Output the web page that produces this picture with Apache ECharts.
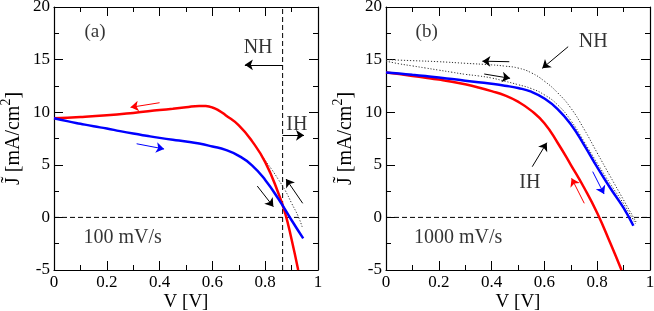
<!DOCTYPE html>
<html>
<head>
<meta charset="utf-8">
<script src="https://cdn.jsdelivr.net/npm/echarts@6/dist/echarts.min.js"></script>
<style>html,body{margin:0;padding:0;background:#fff}#c{width:654px;height:311px}</style>
</head>
<body>
<div id="c"></div>
<script>
// ---------- data: panel (a) 100 mV/s ----------
const aRedV  = [0, 0.1, 0.2, 0.3, 0.4, 0.45, 0.5, 0.55, 0.575, 0.6, 0.625, 0.65, 0.7, 0.75, 0.8, 0.85, 0.875, 0.9, 0.925];
const aRedJ  = [9.43, 9.54, 9.7, 9.93, 10.2, 10.33, 10.47, 10.6, 10.58, 10.45, 10.15, 9.72, 8.75, 7.25, 5.25, 2.3, 0.45, -2.1, -5.0];
const aBlueV = [0, 0.05, 0.1, 0.15, 0.2, 0.25, 0.3, 0.35, 0.4, 0.45, 0.5, 0.55, 0.6, 0.65, 0.7, 0.75, 0.8, 0.85, 0.9, 0.944];
const aBlueJ = [9.43, 9.15, 8.9, 8.66, 8.45, 8.2, 7.97, 7.76, 7.56, 7.38, 7.22, 7.02, 6.74, 6.42, 5.85, 4.95, 3.56, 1.76, -0.27, -2.0];
const aDotV  = [0.775, 0.8, 0.825, 0.85, 0.875, 0.9, 0.925, 0.94];
const aDotJ  = [6.35, 5.4, 4.55, 3.6, 2.6, 1.35, 0.1, -0.9];
const aVline = 0.866;

// ---------- data: panel (b) 1000 mV/s ----------
const bRedV  = [0, 0.05, 0.1, 0.15, 0.2, 0.25, 0.3, 0.35, 0.4, 0.45, 0.5, 0.55, 0.6, 0.65, 0.7, 0.75, 0.8, 0.85, 0.892];
const bRedJ  = [13.78, 13.62, 13.45, 13.28, 13.1, 12.9, 12.65, 12.35, 12.0, 11.6, 11.0, 10.15, 8.95, 7.1, 5.0, 2.84, 0.42, -2.46, -5.0];
const bBlueV = [0, 0.05, 0.1, 0.15, 0.2, 0.25, 0.3, 0.35, 0.4, 0.45, 0.5, 0.55, 0.6, 0.65, 0.7, 0.75, 0.8, 0.85, 0.9, 0.937];
const bBlueJ = [13.78, 13.67, 13.55, 13.43, 13.3, 13.15, 13.0, 12.85, 12.7, 12.52, 12.3, 11.95, 11.3, 10.3, 8.85, 6.9, 4.77, 2.77, 0.9, -0.8];
const bDotUpV = [0, 0.1, 0.2, 0.3, 0.4, 0.45, 0.5, 0.55, 0.6, 0.65, 0.7, 0.75, 0.8, 0.85, 0.9, 0.95];
const bDotUpJ = [15.0, 14.9, 14.8, 14.65, 14.5, 14.38, 14.2, 13.75, 12.95, 11.85, 10.4, 8.4, 6.13, 3.88, 1.65, -0.56];
const bDotLoV = [0, 0.05, 0.1, 0.15, 0.2, 0.25, 0.3, 0.35, 0.4, 0.45, 0.5, 0.55, 0.6, 0.65, 0.7, 0.75, 0.8, 0.85, 0.9, 0.945];
const bDotLoJ = [14.85, 14.6, 14.4, 14.2, 14.0, 13.8, 13.6, 13.45, 13.25, 12.95, 12.62, 12.25, 11.65, 10.7, 9.22, 7.22, 5.16, 3.17, 1.3, -0.6];

// ---------- arrows [from, to, colour] ----------
const aArrows = [
  [[0.40, 10.9], [0.29, 10.46], 'red'],
  [[0.313, 7.0], [0.417, 6.5], 'blue'],
  [[0.866, 14.5], [0.723, 14.5], 'black'],
  [[0.866, 7.8], [0.947, 7.8], 'black'],
  [[0.770, 2.98], [0.831, 1.02], 'black'],
  [[0.942, 1.34], [0.879, 3.65], 'black']
];
const bArrows = [
  [[0.467, 14.8], [0.365, 14.85], 'black'],
  [[0.372, 13.63], [0.47, 13.22], 'black'],
  [[0.69, 16.23], [0.592, 14.17], 'black'],
  [[0.554, 4.82], [0.609, 7.1], 'black'],
  [[0.751, 1.34], [0.703, 3.72], 'red'],
  [[0.783, 4.35], [0.826, 2.22], 'blue']
];
// ---------- text annotations [V, J, text, size] ----------
const aTexts = [[0.155, 17.6, '(a)', 19], [0.773, 16.1, 'NH', 20], [0.92, 8.8, 'IH', 20], [0.26, -1.9, '100 mV/s', 20]];
const bTexts = [[0.154, 17.6, '(b)', 19], [0.785, 16.7, 'NH', 20], [0.545, 3.3, 'IH', 20], [0.273, -1.9, '1000 mV/s', 20]];

const xTicks = {min: 0, max: 1, interval: 0.2};
const yTicks = {min: -5, max: 20, interval: 5};

const FONT = '"Liberation Serif", "Times New Roman", serif';
const zip = (v, j) => v.map((x, i) => [x, j[i]]);
const COLORS = {red: '#ff0000', blue: '#0000ff', black: '#000000'};

function xAx(grid, pos, labels) {
  return {
    type: 'value', gridIndex: grid, position: pos, ...xTicks,
    axisLine: {show: true, onZero: false, lineStyle: {color: '#000', width: 1.2}},
    axisTick: {show: true, inside: true, length: 9, lineStyle: {color: '#000'}},
    minorTick: {show: true, splitNumber: 2, length: 5, lineStyle: {color: '#000'}},
    splitLine: {show: false},
    axisLabel: {show: labels, color: '#000', fontFamily: FONT, fontSize: 17, margin: 4},
    name: labels ? 'V [V]' : '', nameLocation: 'middle', nameGap: 23, nameMoveOverlap: false,
    nameTextStyle: {color: '#000', fontFamily: FONT, fontSize: 19}
  };
}
function yAx(grid, pos, labels) {
  return {
    type: 'value', gridIndex: grid, position: pos, ...yTicks,
    axisLine: {show: true, onZero: false, lineStyle: {color: '#000', width: 1.2}},
    axisTick: {show: true, inside: true, length: 9, lineStyle: {color: '#000'}},
    minorTick: {show: true, splitNumber: 2, length: 5, lineStyle: {color: '#000'}},
    splitLine: {show: false},
    axisLabel: {show: labels, color: '#000', fontFamily: FONT, fontSize: 17, margin: 4},
    name: labels ? '{m|J\u0303 [mA/cm}{s|2}{m|]}' : '', nameLocation: 'middle', nameGap: 25,
    nameTextStyle: {
      color: '#000', fontFamily: FONT, fontSize: 20,
      rich: {
        m: {fontFamily: FONT, fontSize: 20, color: '#000'},
        s: {fontFamily: FONT, fontSize: 14, color: '#000', padding: [0, 0, 16, 0]}
      }
    }
  };
}

function curve(v, j, color, grid, dotted, width) {
  return {
    type: 'line', xAxisIndex: grid * 2, yAxisIndex: grid * 2, data: zip(v, j),
    smooth: 0.5, showSymbol: false, symbol: 'none', silent: true,
    lineStyle: {color: color, width: width, type: dotted ? [1.2, 1.8] : 'solid'}, z: dotted ? 3 : 4
  };
}
function dashed(pts, grid) {
  return {
    type: 'line', xAxisIndex: grid * 2, yAxisIndex: grid * 2, data: pts,
    showSymbol: false, symbol: 'none', silent: true,
    lineStyle: {color: '#000', width: 1, type: [5, 3]}, z: 2
  };
}
function arrows(list, grid) {
  return {
    type: 'lines', coordinateSystem: 'cartesian2d', xAxisIndex: grid * 2, yAxisIndex: grid * 2,
    symbol: ['none', 'arrow'], symbolSize: [6, 8], silent: true, z: 5,
    data: list.map(a => ({coords: [a[0], a[1]], lineStyle: {color: COLORS[a[2]], width: 1}})),
    lineStyle: {width: 1, opacity: 1}
  };
}
function texts(list, grid) {
  return {
    type: 'scatter', xAxisIndex: grid * 2, yAxisIndex: grid * 2, silent: true, z: 6,
    symbolSize: 1, itemStyle: {color: 'rgba(0,0,0,0)'},
    data: list.map(t => ({value: [t[0], t[1]], label: {show: true, position: 'inside', formatter: t[2],
      color: '#000', fontFamily: FONT, fontSize: t[3]}}))
  };
}

const chart = echarts.init(document.getElementById('c'), null, {renderer: 'canvas'});
chart.setOption({
  animation: false,
  backgroundColor: '#fff',
  grid: [
    {left: 54, top: 7, width: 264, height: 263, outerBoundsMode: 'none', containLabel: false},
    {left: 386, top: 7, width: 264, height: 263, outerBoundsMode: 'none', containLabel: false}
  ],
  xAxis: [xAx(0, 'bottom', true), xAx(0, 'top', false), xAx(1, 'bottom', true), xAx(1, 'top', false)],
  yAxis: [yAx(0, 'left', true), yAx(0, 'right', false), yAx(1, 'left', true), yAx(1, 'right', false)],
  series: [
    dashed([[0, 0], [1, 0]], 0),
    dashed([[aVline, -5], [aVline, 20]], 0),
    curve(aDotV, aDotJ, '#333', 0, true, 1),
    curve(aRedV, aRedJ, COLORS.red, 0, false, 2.5),
    curve(aBlueV, aBlueJ, COLORS.blue, 0, false, 2.5),
    arrows(aArrows, 0),
    texts(aTexts, 0),
    dashed([[0, 0], [1, 0]], 1),
    curve(bDotUpV, bDotUpJ, '#333', 1, true, 1),
    curve(bDotLoV, bDotLoJ, '#333', 1, true, 1),
    curve(bRedV, bRedJ, COLORS.red, 1, false, 2.5),
    curve(bBlueV, bBlueJ, COLORS.blue, 1, false, 2.5),
    arrows(bArrows, 1),
    texts(bTexts, 1)
  ]
});
</script>
</body>
</html>
